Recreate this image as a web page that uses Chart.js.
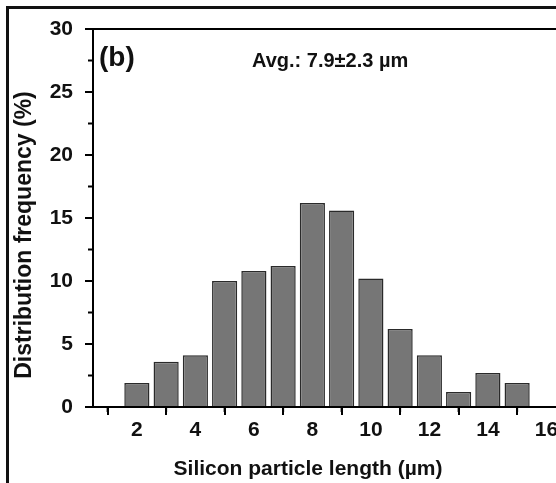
<!DOCTYPE html>
<html>
<head>
<meta charset="utf-8">
<script src="https://cdn.jsdelivr.net/npm/chart.js@4/dist/chart.umd.min.js"></script>
<style>
  html, body { margin: 0; padding: 0; background: #fff; overflow: hidden; }
  #wrap { width: 556px; height: 483px; overflow: hidden; }
</style>
</head>
<body>
<div id="wrap"><canvas id="c" width="575" height="483"></canvas></div>
<script>
// particle length bins (µm) and frequency (%)
const lengths = [2, 3, 4, 5, 6, 7, 8, 9, 10, 11, 12, 13, 14, 15];
const freq = [1.9, 3.6, 4.1, 10.0, 10.8, 11.2, 16.2, 15.6, 10.2, 6.2, 4.1, 1.2, 2.7, 1.9];
const xMajor = [2, 4, 6, 8, 10, 12, 14, 16];
const xMinor = [1, 3, 5, 7, 9, 11, 13, 15];
const yMinor = [2.5, 7.5, 12.5, 17.5, 22.5, 27.5];

const FONT = '"Liberation Sans", Arial, sans-serif';

// frame, minor ticks, annotations
const extras = {
  id: 'extras',
  beforeDraw(chart) {
    const ctx = chart.ctx;
    ctx.save();
    ctx.fillStyle = '#fff';
    ctx.fillRect(0, 0, chart.width, chart.height);
    ctx.strokeStyle = '#111';
    ctx.lineWidth = 3;
    ctx.beginPath();
    ctx.moveTo(7.5, 483);
    ctx.lineTo(7.5, 7.5);
    ctx.lineTo(575, 7.5);
    ctx.stroke();
    ctx.restore();
  },
  afterDatasetsDraw(chart) {
    const { ctx, chartArea: a, scales: { x, y } } = chart;
    ctx.save();
    ctx.strokeStyle = '#000';
    ctx.lineWidth = 2;
    ctx.strokeRect(a.left, a.top, a.right - a.left, a.bottom - a.top);
    ctx.beginPath();
    xMinor.forEach(v => {
      const px = x.getPixelForValue(v);
      ctx.moveTo(px, a.bottom);
      ctx.lineTo(px, a.bottom + 5);
    });
    yMinor.forEach(v => {
      const py = y.getPixelForValue(v);
      ctx.moveTo(a.left, py);
      ctx.lineTo(a.left - 5, py);
    });
    ctx.stroke();

    ctx.fillStyle = '#111';
    ctx.font = 'bold 28px ' + FONT;
    ctx.textBaseline = 'alphabetic';
    ctx.fillText('(b)', 99, 66);
    ctx.font = 'bold 20px ' + FONT;
    ctx.fillText('Avg.: 7.9\u00b12.3 \u00b5m', 252, 67);

    ctx.font = 'bold 21px ' + FONT;
    ctx.textAlign = 'center';
    ctx.textBaseline = 'middle';
    ctx.fillText('Silicon particle length (\u00b5m)', 308, 469);
    ctx.font = 'bold 23px ' + FONT;
    ctx.translate(25, 235);
    ctx.rotate(-Math.PI / 2);
    ctx.fillText('Distribution frequency (%)', 0, 0);
    ctx.restore();
  }
};

new Chart(document.getElementById('c'), {
  type: 'bar',
  data: {
    datasets: [{
      data: lengths.map((v, i) => ({ x: v, y: freq[i] })),
      backgroundColor: '#767676',
      borderColor: '#2a2a2a',
      borderWidth: 1.5,
      barPercentage: 0.86,
      categoryPercentage: 1
    }]
  },
  options: {
    responsive: false,
    animation: false,
    layout: { padding: { left: 0, top: 29, right: 14, bottom: 0 } },
    plugins: { legend: { display: false }, tooltip: { enabled: false } },
    scales: {
      x: {
        type: 'linear',
        min: 0.5,
        max: 16.5,
        offset: false,
        afterBuildTicks: s => { s.ticks = xMajor.map(v => ({ value: v })); },
        afterFit: s => { s.height = 76; },
        border: { display: true, color: '#000', width: 2 },
        grid: { drawOnChartArea: false, tickLength: 8, color: '#000', lineWidth: 2 },
        ticks: {
          color: '#111',
          padding: 3,
          maxRotation: 0,
          font: { family: FONT, size: 21, weight: 'bold' }
        }
      },
      y: {
        min: 0,
        max: 30,
        afterFit: s => { s.width = 93; },
        border: { display: true, color: '#000', width: 2 },
        grid: { drawOnChartArea: false, tickLength: 8, color: '#000', lineWidth: 2 },
        ticks: {
          stepSize: 5,
          color: '#111',
          padding: 12,
          font: { family: FONT, size: 21, weight: 'bold' }
        }
      }
    }
  },
  plugins: [extras]
});
</script>
</body>
</html>
